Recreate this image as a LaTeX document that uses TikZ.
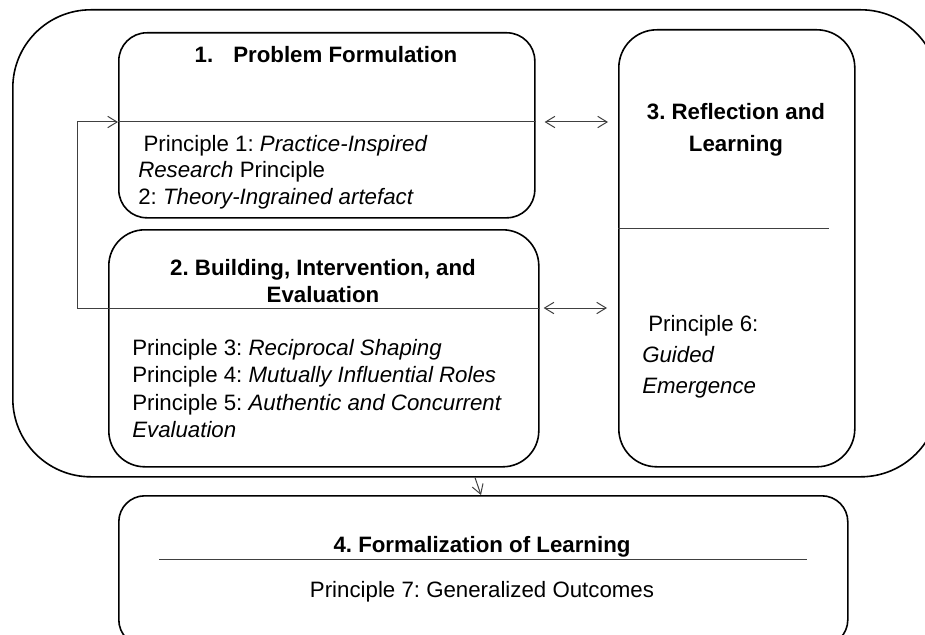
\documentclass[tikz,border=0pt]{standalone}
\usepackage{fontspec}
\setmainfont{Liberation Sans}
\usetikzlibrary{arrows.meta,calc}
\frenchspacing

\newcommand{\basefont}{\fontsize{16.7}{20.3}\selectfont}
\tikzstyle{stage}=[draw, line width=1.2pt, inner sep=0pt, anchor=north west]
\tikzstyle{link}=[black!75, line width=0.75pt, >={Straight Barb[length=7pt,width=8.5pt]}]
\tikzstyle{heading}=[font={\basefont\bfseries}, align=center, inner sep=0pt]
\tikzstyle{body}=[align=left, inner sep=0pt, anchor=north west]

% rounded box from (x1,y1) to (x2,y2), corner radius in px
\newcommand{\stagebox}[6]{
    \node[stage, rounded corners=#6*0.75pt,
          minimum width=(#4-#2)*0.75pt, minimum height=(#5-#3)*0.75pt] (#1) at (#2,#3) {};
}

\begin{document}
\begin{tikzpicture}[x=0.75pt, y=-0.75pt, font=\basefont]
    \useasboundingbox (0,0) rectangle (925,635);

    \stagebox{frame}{12}{9}{938}{476}{78}
    \stagebox{pf}{118}{32}{534}{217}{28}
    \stagebox{bie}{108}{229}{538}{466}{36}
    \stagebox{rl}{618}{29}{854}{466}{38}
    \stagebox{fl}{118}{495}{847}{645}{26}

    % headings
    \node[heading, anchor=base] (pfh) at (326,63) {1.\hspace{0.9em}Problem Formulation};
    \node[heading, anchor=north, font={\fontsize{16.7}{20.25}\selectfont\bfseries}] (bieh) at (323,259)
        {2. Building, Intervention, and\\Evaluation};
    \node[heading, anchor=north, font={\fontsize{16.7}{24}\selectfont\bfseries}] (rlh) at (736,103)
        {3. Reflection and\\Learning};
    \node[heading, anchor=base] (flh) at (482,552) {4. Formalization of Learning};

    % principles
    \node[body, font={\fontsize{16.7}{19.9}\selectfont}] (pft) at (138,135)
        {\hspace*{4pt}Principle 1: \textit{Practice-Inspired}\\
         \textit{Research} Principle\\
         2: \textit{Theory-Ingrained artefact}};
    \node[body, font={\fontsize{16.7}{20.5}\selectfont}] (biet) at (132,339)
        {Principle 3: \textit{Reciprocal Shaping}\\
         Principle 4: \textit{Mutually Influential Roles}\\
         Principle 5: \textit{Authentic and Concurrent}\\
         \textit{Evaluation}};
    \node[body, font={\fontsize{16.7}{23.25}\selectfont}] (rlt) at (642,315)
        {\hspace*{4.5pt}Principle 6:\\
         \textit{Guided}\\
         \textit{Emergence}};
    \node[inner sep=0pt, anchor=base] (flt) at (482,597) {Principle 7: Generalized Outcomes};

    % dividers and loop
    \coordinate (loopT) at (77,122);
    \coordinate (loopB) at (77,308);
    \draw[link] (loopB) -- (loopB -| bie.east);
    \draw[link,->] (loopB) -- (loopT) -- (loopT -| pf.west);
    \draw[link] (loopT -| pf.west) -- (loopT -| pf.east);
    \draw[link] (rl.west |- 0,228) -- (829,228);
    \draw[link] (159,559) -- (807,559);

    % arrows between the stages
    \draw[link,<->] ($(loopT -| pf.east)+(9,0)$) -- ($(loopT -| rl.west)+(-10,0)$);
    \draw[link,<->] ($(loopB -| bie.east)+(4,0)$) -- ($(loopB -| rl.west)+(-11,0)$);
    \draw[link,->] (frame.south -| 475,0) -- (fl.north -| 481,0);
\end{tikzpicture}
\end{document}
